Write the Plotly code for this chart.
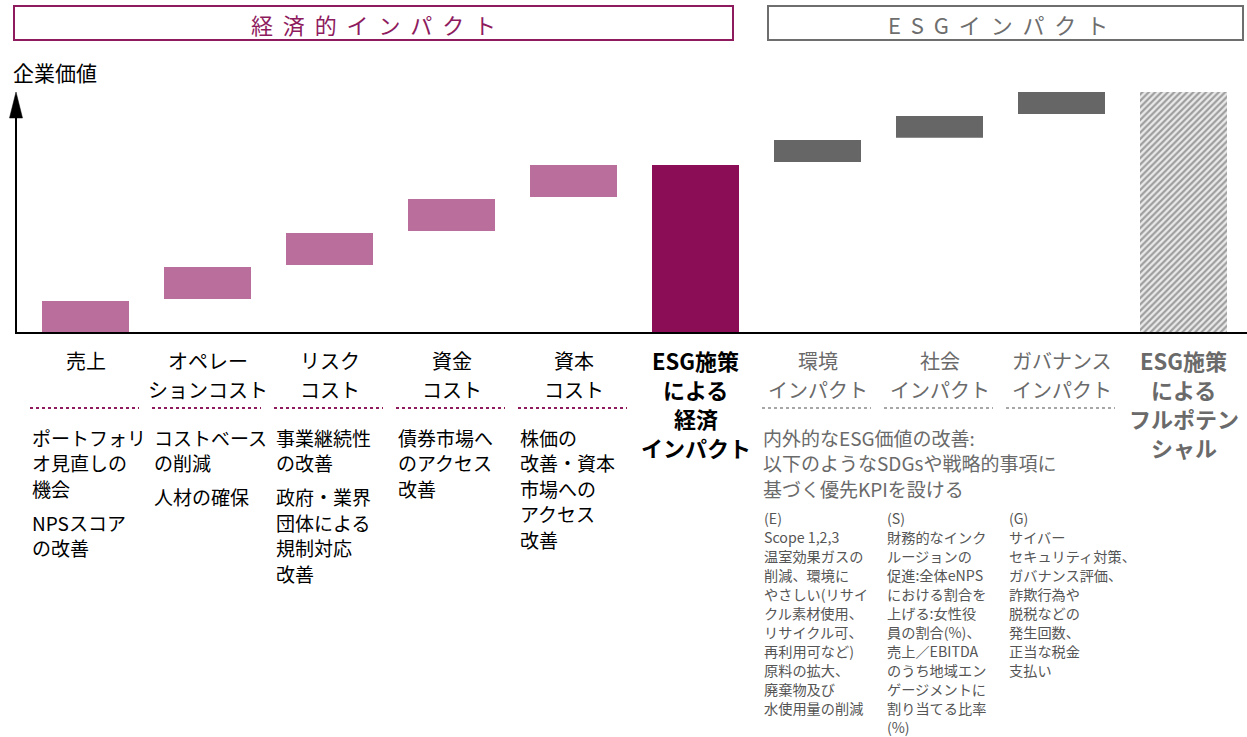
import plotly.graph_objects as go

W, H = 1247, 737
FONT = "Noto Sans CJK JP"

# ---------------- data ----------------
categories = ["売上", "オペレーションコスト", "リスクコスト", "資金コスト", "資本コスト",
              "ESG施策による経済インパクト", "環境インパクト", "社会インパクト",
              "ガバナンスインパクト", "ESG施策によるフルポテンシャル"]
label_lines = [["売上"], ["オペレー", "ションコスト"], ["リスク", "コスト"], ["資金", "コスト"],
               ["資本", "コスト"], ["ESG施策", "による", "経済", "インパクト"],
               ["環境", "インパクト"], ["社会", "インパクト"], ["ガバナンス", "インパクト"],
               ["ESG施策", "による", "フルポテン", "シャル"]]

econ_low = [0.0, 1.0, 2.0, 3.0, 4.0]
econ_high = [0.94, 1.94, 2.94, 3.94, 4.94]
econ_total = 4.94
esg_low = [5.03, 5.74, 6.44]
esg_high = [5.68, 6.38, 7.09]
esg_total = 7.09

econ_desc = [
    [["ポートフォリ", "オ見直しの", "機会"], ["NPSスコア", "の改善"]],
    [["コストベース", "の削減"], ["人材の確保"]],
    [["事業継続性", "の改善"], ["政府・業界", "団体による", "規制対応", "改善"]],
    [["債券市場へ", "のアクセス", "改善"]],
    [["株価の", "改善・資本", "市場への", "アクセス", "改善"]],
]
esg_desc = ["内外的なESG価値の改善:", "以下のようなSDGsや戦略的事項に", "基づく優先KPIを設ける"]
esg_detail = [
    ["(E)", "Scope 1,2,3", "温室効果ガスの", "削減、環境に", "やさしい(リサイ", "クル素材使用、",
     "リサイクル可、", "再利用可など)", "原料の拡大、", "廃棄物及び", "水使用量の削減"],
    ["(S)", "財務的なインク", "ルージョンの", "促進:全体eNPS", "における割合を", "上げる:女性役",
     "員の割合(%)、", "売上／EBITDA", "のうち地域エン", "ゲージメントに", "割り当てる比率", "(%)"],
    ["(G)", "サイバー", "セキュリティ対策、", "ガバナンス評価、", "詐欺行為や", "脱税などの",
     "発生回数、", "正当な税金", "支払い"],
]
header_econ = "経済的インパクト"
header_esg = "ESGインパクト"
y_title = "企業価値"

# ---------------- colours ----------------
PINK = "#B96E9B"
MAGENTA = "#8A0D55"
HEAD_MAG = "#8E1B5E"
GREY_BAR = "#666666"
GREY_TXT = "#6a6a6a"
GREY_SMALL = "#555555"

# ---------------- geometry helpers ----------------
X0_PX, PITCH = 85.5, 122.0
Y0_PX, UNIT = 333.0, 34.0
xr = [-X0_PX / PITCH, (W - X0_PX) / PITCH]
yr = [-(H - Y0_PX) / UNIT, Y0_PX / UNIT]


def px(x):
    return x / W


def py(y):
    return 1 - y / H


BW = 87 / PITCH

fig = go.Figure()
fig.add_trace(go.Bar(x=list(range(5)), base=econ_low,
                     y=[h - l for l, h in zip(econ_low, econ_high)],
                     width=BW, marker=dict(color=PINK, line=dict(width=0)),
                     hoverinfo="skip"))
fig.add_trace(go.Bar(x=[5], base=[0], y=[econ_total], width=BW,
                     marker=dict(color=MAGENTA, line=dict(width=0)), hoverinfo="skip"))
fig.add_trace(go.Bar(x=[6, 7, 8], base=esg_low,
                     y=[h - l for l, h in zip(esg_low, esg_high)],
                     width=BW, marker=dict(color=GREY_BAR, line=dict(width=0)),
                     hoverinfo="skip"))
fig.add_trace(go.Bar(x=[9], base=[0], y=[esg_total], width=BW,
                     marker=dict(color="#ebebeb", line=dict(width=0),
                                 pattern=dict(shape="/", fgcolor="#4f4f4f", bgcolor="#ebebeb",
                                              size=4.5, solidity=0.5)),
                     hoverinfo="skip"))

shapes = []
annotations = []

# axes
shapes.append(dict(type="line", xref="paper", yref="paper", x0=px(16), x1=px(W),
                   y0=py(333), y1=py(333), line=dict(color="black", width=2)))
shapes.append(dict(type="line", xref="paper", yref="paper", x0=px(16), x1=px(16),
                   y0=py(334), y1=py(112), line=dict(color="black", width=2)))
shapes.append(dict(type="path", xref="paper", yref="paper",
                   path=f"M{px(16)},{py(92)} L{px(22.5)},{py(118)} L{px(9.5)},{py(118)} Z",
                   fillcolor="black", line=dict(color="black", width=0.5)))
annotations.append(dict(xref="paper", yref="paper", x=px(11), y=py(72), text=y_title,
                        showarrow=False, xanchor="left", yanchor="middle",
                        font=dict(size=21, color="black", family=FONT)))

# headers
sp = "\u00a0\u00a0"
shapes.append(dict(type="rect", xref="paper", yref="paper", x0=px(14), x1=px(733),
                   y0=py(40), y1=py(6), line=dict(color=HEAD_MAG, width=2)))
annotations.append(dict(xref="paper", yref="paper", x=px(373), y=py(24),
                        text=sp.join(header_econ), showarrow=False,
                        xanchor="center", yanchor="middle",
                        font=dict(size=22, color=HEAD_MAG, family=FONT)))
shapes.append(dict(type="rect", xref="paper", yref="paper", x0=px(768), x1=px(1243),
                   y0=py(40), y1=py(6), line=dict(color="#6e6e6e", width=2)))
annotations.append(dict(xref="paper", yref="paper", x=px(998), y=py(24),
                        text=sp.join(header_esg), showarrow=False,
                        xanchor="center", yanchor="middle",
                        font=dict(size=22, color="#6e6e6e", family=FONT)))

# category labels
label_y = [360, 389, 418, 447]
for i, lines in enumerate(label_lines):
    bold = i in (5, 9)
    color = "black" if i <= 5 else GREY_TXT
    for j, t in enumerate(lines):
        annotations.append(dict(xref="x", yref="paper", x=i, y=py(label_y[j]),
                                text=f"<b>{t}</b>" if bold else t, showarrow=False,
                                xanchor="center", yanchor="middle",
                                font=dict(size=22 if bold else 20, color=color, family=FONT)))

# dotted separators
for i in range(9):
    if i == 5:
        continue
    c = HEAD_MAG if i < 5 else "#8a8a8a"
    w = 2 if i < 5 else 1.5
    shapes.append(dict(type="line", xref="x", yref="paper", x0=i - 55.5 / PITCH,
                       x1=i + 53.5 / PITCH, y0=py(408), y1=py(408),
                       line=dict(color=c, width=w, dash="dot")))

# economic descriptions
LS, PG = 25.5, 34.0
for i, paras in enumerate(econ_desc):
    y = 437.0
    for p in paras:
        for k, t in enumerate(p):
            annotations.append(dict(xref="x", yref="paper", x=i - 55.5 / PITCH, y=py(y),
                                    text=t, showarrow=False, xanchor="left", yanchor="middle",
                                    font=dict(size=19, color="black", family=FONT)))
            y += LS
        y += PG - LS

# ESG description
for k, t in enumerate(esg_desc):
    annotations.append(dict(xref="paper", yref="paper", x=px(761), y=py(437 + k * LS),
                            text=t, showarrow=False, xanchor="left", yanchor="middle",
                            font=dict(size=19, color=GREY_TXT, family=FONT)))

# ESG details
col_x = [762, 885, 1007]
for c, lines in enumerate(esg_detail):
    for k, t in enumerate(lines):
        annotations.append(dict(xref="paper", yref="paper", x=px(col_x[c]), y=py(518 + k * 19.0),
                                text=t, showarrow=False, xanchor="left", yanchor="middle",
                                font=dict(size=14.2, color=GREY_SMALL, family=FONT)))

fig.update_layout(
    width=W, height=H, margin=dict(l=0, r=0, t=0, b=0),
    paper_bgcolor="white", plot_bgcolor="white",
    barmode="overlay", showlegend=False,
    xaxis=dict(range=xr, visible=False, fixedrange=True),
    yaxis=dict(range=yr, visible=False, fixedrange=True),
    shapes=shapes, annotations=annotations,
    font=dict(family=FONT),
)
fig.write_html("out.html")
